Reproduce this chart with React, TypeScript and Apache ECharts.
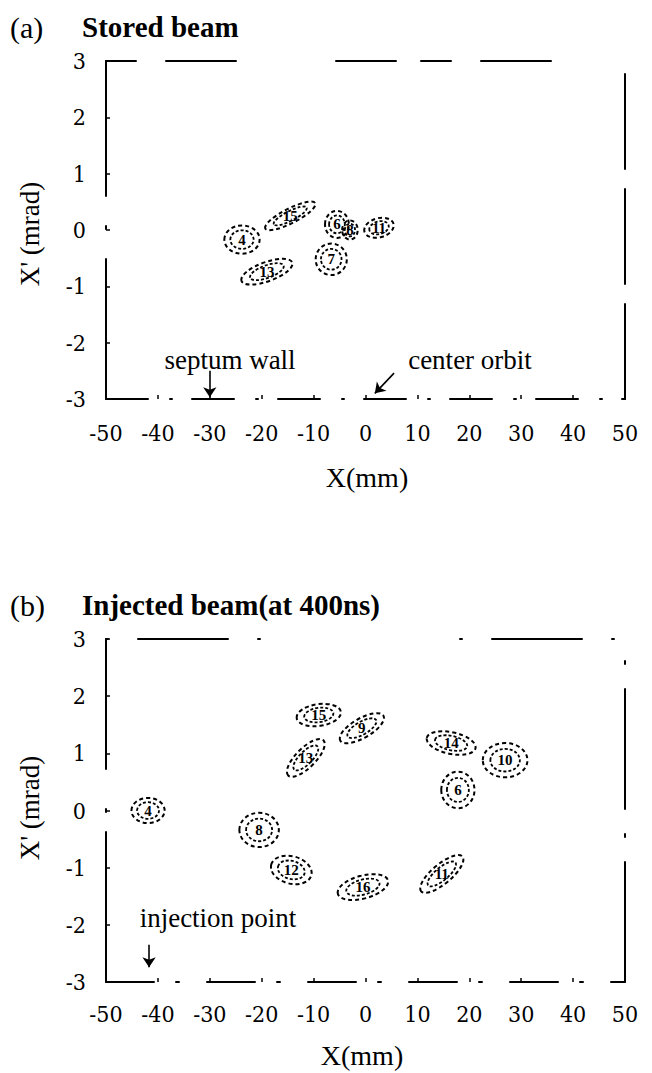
import React, { useEffect, useRef } from "react";
import * as echarts from "echarts";

// ---- Axis ranges / ticks ----
const xRange = [-50, 50];
const xStep = 10;
const yRange = [-3, 3];
const yStep = 1;

// ---- (a) Stored beam: spot turn numbers, centres (mm, mrad), half extents, tilt (deg) ----
const storedLabels = ["4", "15", "6", "8", "11", "7", "13"];
const storedX = [-23.8, -14.5, -5.5, -3.0, 2.6, -6.6, -19.0];
const storedY = [-0.17, 0.25, 0.1, 0.0, 0.04, -0.52, -0.74];
const storedHalfW = [3.4, 5.4, 2.3, 1.5, 2.9, 3.0, 5.2];
const storedHalfH = [0.25, 0.13, 0.24, 0.17, 0.17, 0.28, 0.17];
const storedTilt = [0, 27, 0, 0, 15, 0, 20];

// ---- (b) Injected beam (at 400ns) ----
const injLabels = ["4", "8", "12", "16", "11", "13", "15", "9", "14", "10", "6"];
const injX = [-41.9, -20.5, -14.3, -0.5, 14.7, -11.5, -9.0, -0.7, 16.5, 26.9, 17.8];
const injY = [0.0, -0.34, -1.04, -1.34, -1.11, 0.92, 1.67, 1.44, 1.18, 0.88, 0.36];
const injHalfW = [3.2, 3.8, 4.0, 5.0, 5.2, 4.8, 4.3, 4.8, 4.8, 4.3, 3.2];
const injHalfH = [0.22, 0.3, 0.24, 0.2, 0.17, 0.17, 0.19, 0.17, 0.19, 0.3, 0.32];
const injTilt = [0, 0, -15, 15, 40, 45, 8, 30, -12, 0, 0];

// ---- Annotation arrows (data coords: from -> to) ----
const septumArrow = [[-30, -2.5], [-30, -2.97]];
const centerArrow = [[5.5, -2.54], [1.8, -2.9]];
const injectionArrow = [[-41.7, -2.35], [-41.7, -2.74]];

const SERIF = "'DejaVu Serif Condensed', 'Liberation Serif', serif";
const TSERIF = "'Liberation Serif', serif";

function makeSpots(labels: string[], xs: number[], ys: number[], hw: number[], hh: number[], tilt: number[]) {
  return labels.map((_, i) => [xs[i], ys[i], hw[i], hh[i], tilt[i]]);
}

function spotRenderer(labels: string[]) {
  return (params: any, api: any) => {
    const c = api.coord([api.value(0), api.value(1)]);
    const s = api.size([api.value(2), api.value(3)]);
    const rot = (api.value(4) * Math.PI) / 180;
    return {
      type: "group",
      x: c[0],
      y: c[1],
      rotation: rot,
      children: [
        {
          type: "ellipse",
          shape: { cx: 0, cy: 0, rx: s[0], ry: s[1] },
          style: { fill: "none", stroke: "#000", lineWidth: 2, lineDash: [4, 3] },
        },
        {
          type: "ellipse",
          shape: { cx: 0, cy: 0, rx: s[0] * 0.66, ry: s[1] * 0.66 },
          style: { fill: "none", stroke: "#000", lineWidth: 1.8, lineDash: [3, 2] },
        },
        {
          type: "text",
          rotation: -rot,
          style: {
            text: labels[params.dataIndex],
            x: 0,
            y: 0,
            align: "center",
            verticalAlign: "middle",
            font: "bold 15px " + TSERIF,
            fill: "#000",
          },
        },
      ],
    };
  };
}

function arrowLine(a: number[][]) {
  return [{ coord: a[0] }, { coord: a[1] }];
}

export default function App() {
  const ref = useRef<HTMLDivElement>(null);

  useEffect(() => {
    document.body.style.margin = "0";
    if (!ref.current) return;
    const chart = echarts.init(ref.current, undefined, { renderer: "svg" });

    const labelStyle = { color: "#000", fontFamily: SERIF, fontSize: 23 };
    const bottomX = (gridIndex: number, margin: number, dash: number[]) => ({
      type: "value",
      gridIndex,
      min: xRange[0],
      max: xRange[1],
      interval: xStep,
      position: "bottom",
      axisLine: { onZero: false, lineStyle: { color: "#000", width: 2, type: dash } },
      axisTick: { inside: true, length: 4, lineStyle: { color: "#000", width: 1.5 } },
      axisLabel: { ...labelStyle, margin },
      splitLine: { show: false },
    });
    const topX = (gridIndex: number, dash: number[]) => ({
      type: "value",
      gridIndex,
      min: xRange[0],
      max: xRange[1],
      interval: xStep,
      position: "top",
      axisLine: { onZero: false, lineStyle: { color: "#000", width: 2, type: dash } },
      axisTick: { show: false },
      axisLabel: { show: false },
      splitLine: { show: false },
    });
    const leftY = (gridIndex: number, dash: number[], padTop: number) => ({
      type: "value",
      gridIndex,
      min: yRange[0],
      max: yRange[1],
      interval: yStep,
      position: "left",
      axisLine: { show: true, onZero: false, lineStyle: { color: "#000", width: 2, type: dash } },
      axisTick: { show: true, inside: true, length: 4, lineStyle: { color: "#000", width: 1.5 } },
      axisLabel: { ...labelStyle, margin: 20, padding: [padTop, 0, 0, 0] },
      splitLine: { show: false },
    });
    const rightY = (gridIndex: number, dash: number[]) => ({
      type: "value",
      gridIndex,
      min: yRange[0],
      max: yRange[1],
      interval: yStep,
      position: "right",
      axisLine: { show: true, onZero: false, lineStyle: { color: "#000", width: 2, type: dash } },
      axisTick: { show: false },
      axisLabel: { show: false },
      splitLine: { show: false },
    });

    const markArrow = (arrows: number[][][]) => ({
      silent: true,
      animation: false,
      symbol: ["none", "arrow"],
      symbolSize: 10,
      label: { show: false },
      lineStyle: { color: "#000", width: 1.6, type: "solid" },
      itemStyle: { color: "#000" },
      emphasis: { disabled: true },
      data: arrows.map(arrowLine),
    });

    const text = (t: string, x: number, y: number, font: string, align = "left", rotation = 0) => ({
      type: "text",
      x,
      y,
      rotation,
      style: { text: t, font, fill: "#000", align, verticalAlign: "middle" },
    });

    chart.setOption({
      animation: false,
      backgroundColor: "#fff",
      grid: [
        { left: 106, top: 61, width: 519, height: 338 },
        { left: 106, top: 639, width: 519, height: 343 },
      ],
      xAxis: [
        bottomX(0, 22, [42, 22, 2, 20]),
        topX(0, [30, 30, 70, 100, 60, 25]),
        bottomX(1, 20, [48, 22, 3, 28]),
        topX(1, [2, 30, 90, 30, 2, 200]),
      ],
      yAxis: [
        leftY(0, [140, 30, 3, 30], 10),
        rightY(0, [95, 20]),
        leftY(1, [150, 20, 3, 40], 0),
        rightY(1, [120, 25, 3, 25]),
      ],
      series: [
        {
          type: "custom",
          xAxisIndex: 0,
          yAxisIndex: 0,
          renderItem: spotRenderer(storedLabels),
          data: makeSpots(storedLabels, storedX, storedY, storedHalfW, storedHalfH, storedTilt),
          silent: true,
          clip: false,
        },
        {
          type: "custom",
          xAxisIndex: 2,
          yAxisIndex: 2,
          renderItem: spotRenderer(injLabels),
          data: makeSpots(injLabels, injX, injY, injHalfW, injHalfH, injTilt),
          silent: true,
          clip: false,
        },
        {
          type: "scatter",
          xAxisIndex: 0,
          yAxisIndex: 0,
          data: [],
          markLine: markArrow([septumArrow, centerArrow]),
        },
        {
          type: "scatter",
          xAxisIndex: 2,
          yAxisIndex: 2,
          data: [],
          markLine: markArrow([injectionArrow]),
        },
      ],
      graphic: [
        text("(a)", 10, 27, "30px " + TSERIF),
        text("Stored beam", 82, 27, "bold 29px " + TSERIF),
        text("(b)", 10, 605, "30px " + TSERIF),
        text("Injected beam(at 400ns)", 82, 605, "bold 29px " + TSERIF),
        text("X' (mrad)", 30, 234, "27px " + TSERIF, "center", Math.PI / 2),
        text("X' (mrad)", 30, 808, "27px " + TSERIF, "center", Math.PI / 2),
        text("X(mm)", 367, 477, "28px " + TSERIF, "center"),
        text("X(mm)", 362, 1055, "28px " + TSERIF, "center"),
        text("septum wall", 230, 360, "27px " + TSERIF, "center"),
        text("center orbit", 470, 360, "27px " + TSERIF, "center"),
        text("injection point", 218, 918, "27px " + TSERIF, "center"),
      ],
    });

    return () => chart.dispose();
  }, []);

  return <div ref={ref} style={{ width: 652, height: 1073 }} />;
}
